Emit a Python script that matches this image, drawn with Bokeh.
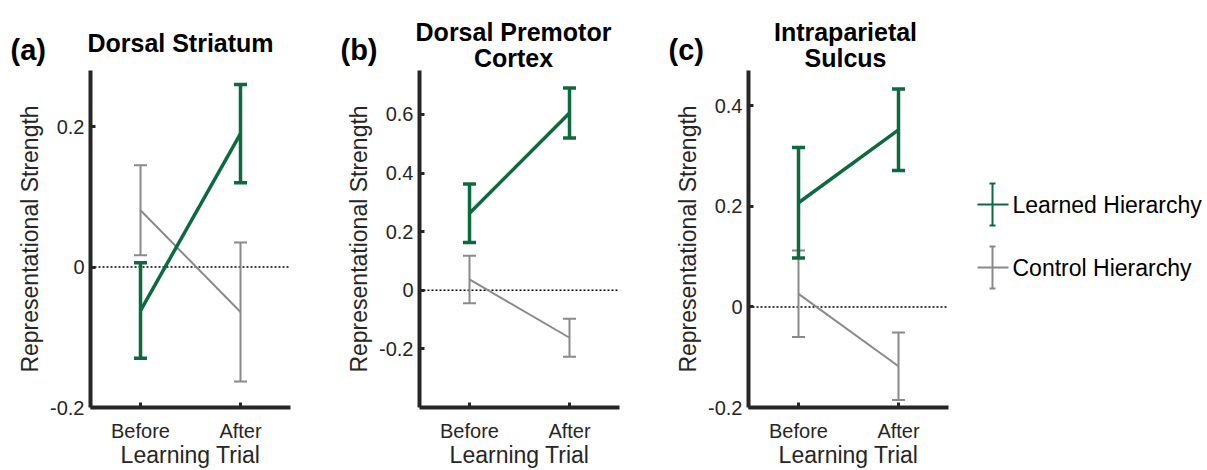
from bokeh.plotting import figure
from bokeh.models import Range1d, Span, Whisker, TeeHead, ColumnDataSource, FixedTicker
from bokeh.layouts import row, column
from bokeh.embed import file_html
from bokeh.resources import INLINE
from bokeh.core.properties import value

# ---------------- data ----------------
conditions = ["Before", "After"]
trial_x = [1, 2]
panel_letters = ["(a)", "(b)", "(c)"]
panel_titles = [["Dorsal Striatum"], ["Dorsal Premotor", "Cortex"], ["Intraparietal", "Sulcus"]]
series_names = ["Learned Hierarchy", "Control Hierarchy"]

striatum_learned_mean = [-0.062, 0.190]
striatum_learned_sem = [0.068, 0.070]
striatum_control_mean = [0.081, -0.064]
striatum_control_sem = [0.064, 0.099]

premotor_learned_mean = [0.263, 0.605]
premotor_learned_sem = [0.100, 0.085]
premotor_control_mean = [0.037, -0.162]
premotor_control_sem = [0.081, 0.065]

parietal_learned_mean = [0.207, 0.352]
parietal_learned_sem = [0.110, 0.081]
parietal_control_mean = [0.026, -0.118]
parietal_control_sem = [0.086, 0.067]

y_limits = [(-0.2, 0.28), (-0.4, 0.75), (-0.2, 0.47)]
y_ticks = [[-0.2, 0, 0.2], [-0.2, 0, 0.2, 0.4, 0.6], [-0.2, 0, 0.2, 0.4]]

# ---------------- style ----------------
GREEN = "#0b6b3e"
GRAY = "#8a8a8a"
AX = "#262626"
FONT = "Liberation Sans"
HEADER_H = 70
FRAME_H = 337
FRAME_W = 200


def make_panel(i, lm, ls, cm, cs, left_border, right_border):
    p = figure(frame_width=FRAME_W, frame_height=FRAME_H, x_range=Range1d(0.5, 2.5),
               y_range=Range1d(*y_limits[i]), output_backend="svg",
               toolbar_location=None, min_border_left=left_border,
               min_border_right=right_border, min_border_top=0,
               min_border_bottom=0)
    p.outline_line_color = None
    p.xgrid.visible = False
    p.ygrid.visible = False
    p.xaxis.ticker = FixedTicker(ticks=trial_x)
    p.xaxis.major_label_overrides = dict(zip(trial_x, conditions))
    p.yaxis.ticker = FixedTicker(ticks=y_ticks[i])
    p.yaxis.major_label_overrides = {t: f"{t:g}" for t in y_ticks[i]}
    p.xaxis.axis_label = "Learning Trial"
    p.yaxis.axis_label = "Representational Strength"
    for ax in (p.xaxis[0], p.yaxis[0]):
        ax.axis_line_width = 4
        ax.axis_line_color = AX
        ax.major_tick_line_width = 3
        ax.major_tick_line_color = AX
        ax.major_tick_in = 5
        ax.major_tick_out = 0
        ax.minor_tick_line_color = None
        ax.major_label_text_font = FONT
        ax.major_label_text_font_size = "20px"
        ax.major_label_text_color = AX
        ax.axis_label_text_font = FONT
        ax.axis_label_text_font_size = "23px"
        ax.axis_label_text_font_style = "normal"
        ax.axis_label_text_color = AX
    p.xaxis.major_label_standoff = 12
    p.xaxis.axis_label_standoff = -3
    p.yaxis.major_label_standoff = 6
    p.yaxis.axis_label_standoff = 4

    p.add_layout(Span(location=0, dimension="width", line_color="black",
                      line_dash="2 2", line_width=1.5, level="underlay"))

    for mean, sem, color, lw in [(cm, cs, GRAY, 2), (lm, ls, GREEN, 3.5)]:
        src = ColumnDataSource(dict(
            x=trial_x, y=mean,
            upper=[m + s for m, s in zip(mean, sem)],
            lower=[m - s for m, s in zip(mean, sem)]))
        p.line("x", "y", source=src, line_color=color, line_width=lw)
        w = Whisker(base="x", upper="upper", lower="lower", source=src,
                    line_color=color, line_width=lw, level="glyph",
                    upper_head=TeeHead(size=13, line_color=color, line_width=lw),
                    lower_head=TeeHead(size=13, line_color=color, line_width=lw))
        p.add_layout(w)
    return p


# ---------------- header (panel letters and titles) ----------------
header = figure(width=1207, height=HEADER_H, x_range=Range1d(0, 1207),
                y_range=Range1d(HEADER_H, 0), output_backend="svg",
                toolbar_location=None, min_border=0)
header.axis.visible = False
header.xgrid.visible = False
header.ygrid.visible = False
header.outline_line_color = None
letter_x = [10, 340, 668]
title_cx = [180, 513, 845]
header.text(x=letter_x, y=[49, 49, 49], text=panel_letters,
            text_font=value(FONT), text_font_size="29px", text_font_style="bold",
            text_color="black", text_baseline="alphabetic", text_align="left")
for cx, lines in zip(title_cx, panel_titles):
    ys = [42] if len(lines) == 1 else [31, 57]
    header.text(x=[cx] * len(lines), y=ys, text=lines, text_font=value(FONT),
                text_font_size="25px", text_font_style="bold", text_color="black",
                text_baseline="alphabetic", text_align="center")

pa = make_panel(0, striatum_learned_mean, striatum_learned_sem,
                striatum_control_mean, striatum_control_sem, 90, 47)
pb = make_panel(1, premotor_learned_mean, premotor_learned_sem,
                premotor_control_mean, premotor_control_sem, 82, 47)
pc = make_panel(2, parietal_learned_mean, parietal_learned_sem,
                parietal_control_mean, parietal_control_sem, 82, 10)

# ---------------- legend (frame aligned with the panels' frames) ----------------
leg = figure(frame_width=249, frame_height=FRAME_H, x_range=Range1d(0, 249),
             y_range=Range1d(HEADER_H + FRAME_H, HEADER_H),
             output_backend="svg", toolbar_location=None, min_border=0)
leg.axis.visible = False
leg.xgrid.visible = False
leg.ygrid.visible = False
leg.outline_line_color = None
for name, color, yc in [(series_names[0], GREEN, 204), (series_names[1], GRAY, 267)]:
    leg.segment(x0=[19, 34, 31, 31], y0=[yc, yc - 21, yc - 21, yc + 21],
                x1=[50, 34, 37, 37], y1=[yc, yc + 21, yc - 21, yc + 21],
                line_color=color, line_width=2)
    leg.text(x=[54], y=[yc], text=[name], text_font=value(FONT),
             text_font_size="23px", text_baseline="middle", text_color="black")

layout = column(header, row(pa, pb, pc, leg))
open("out.html", "w").write(file_html(layout, INLINE))
